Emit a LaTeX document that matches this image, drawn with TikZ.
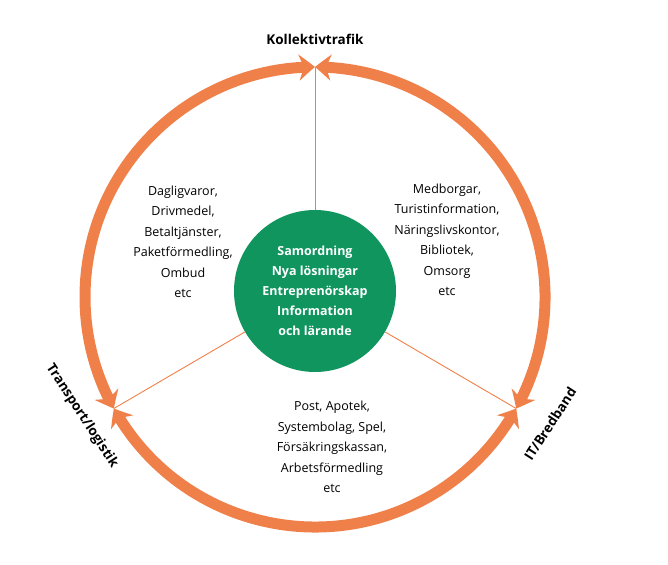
\documentclass[tikz,border=0pt]{standalone}
\usepackage{fontspec}
\setmainfont{Open Sans}
\usetikzlibrary{arrows.meta,bending}
\definecolor{org}{HTML}{F0804A}
\definecolor{grn}{HTML}{10955F}
\begin{document}
\begin{tikzpicture}[x=1pt,y=1pt,
  ring/.style={draw=org,line width=11pt,{Stealth[length=16pt,width=26pt,inset=5pt,bend]}-{Stealth[length=16pt,width=26pt,inset=5pt,bend]}},
  spoke/.style={draw=org,line width=0.9pt},
  lbl/.style={align=center,font=\fontsize{12.5}{20.5}\selectfont},
  title/.style={font=\fontsize{13.5}{15}\selectfont\bfseries}]
\useasboundingbox (0,0) rectangle (668,564);
\coordinate (c) at (315,267);
\path (c) ++(90:230) coordinate (t) (c) ++(209:230) coordinate (l) (c) ++(331:230) coordinate (r);
\draw[ring] (t) arc[start angle=90,end angle=209,radius=230];
\draw[ring] (l) arc[start angle=209,end angle=331,radius=230];
\draw[ring] (r) arc[start angle=-29,end angle=90,radius=230];
\node[circle,fill=grn,minimum size=162pt,inner sep=0pt] (g) at (315,273) {};
\draw[spoke] (g) -- (t);
\draw[spoke] (g) -- (l);
\draw[spoke] (g) -- (r);
\node[lbl,text=white,font=\fontsize{12.5}{20}\selectfont\bfseries] (gt) at (g) {Samordning\\Nya lösningar\\Entreprenörskap\\Information\\och lärande};
\node[lbl] (a) at (183,322) {Dagligvaror,\\Drivmedel,\\Betaltjänster,\\Paketförmedling,\\Ombud\\etc};
\node[lbl] (b) at (447,324) {Medborgar,\\Turistinformation,\\Näringslivskontor,\\Bibliotek,\\Omsorg\\etc};
\node[lbl] (d) at (332,117) {Post, Apotek,\\Systembolag, Spel,\\Försäkringskassan,\\Arbetsförmedling\\etc};
\node[title] (k) at (315,525) {Kollektivtrafik};
\node[title,rotate=-57] (tl) at (82,148) {Transport/logistik};
\node[title,rotate=57] (it) at (550,140) {IT/Bredband};
\end{tikzpicture}
\end{document}
